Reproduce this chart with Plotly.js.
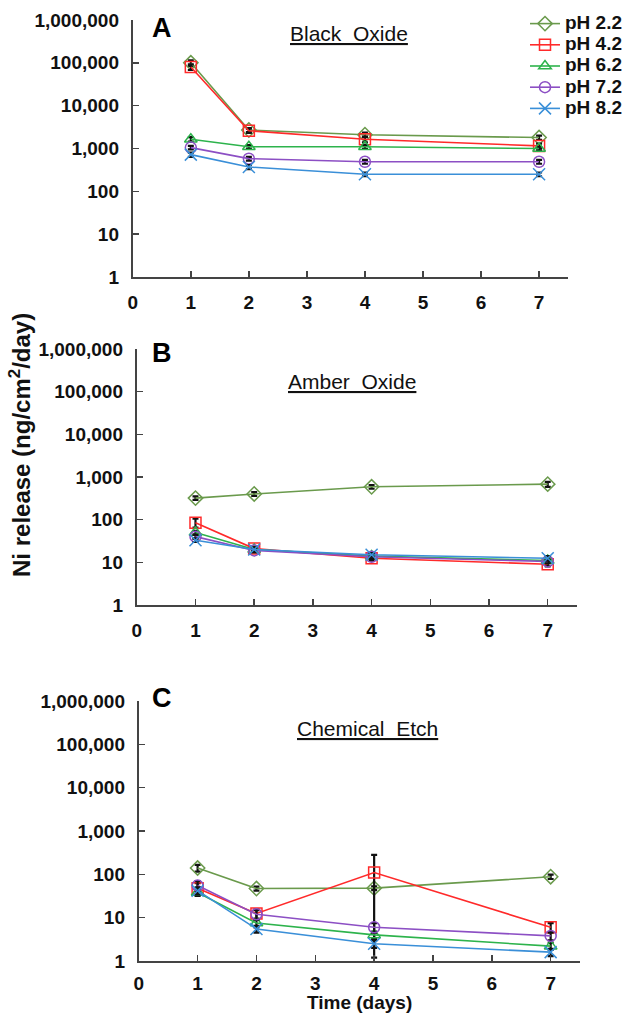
<!DOCTYPE html>
<html>
<head>
<meta charset="utf-8">
<script src="https://cdn.plot.ly/plotly-3.0.1.min.js"></script>
<style>html,body{margin:0;padding:0;background:#fff;}#chart{width:628px;height:1015px;}</style>
</head>
<body>
<div id="chart"></div>
<script>
// ---- data ----
const days = [1, 2, 4, 7];
const seriesNames = ['pH 2.2', 'pH 4.2', 'pH 6.2', 'pH 7.2', 'pH 8.2'];
const panelTitles = ['Black Oxide', 'Amber Oxide', 'Chemical Etch'];
const panelLetters = ['A', 'B', 'C'];
const yTickVals = [1, 10, 100, 1000, 10000, 100000, 1000000];
const yTickText = ['1', '10', '100', '1,000', '10,000', '100,000', '1,000,000'];

// Black Oxide (A)
const blackOxide_pH22 = [100000, 2700, 2100, 1800];
const blackOxide_pH42 = [80000, 2600, 1650, 1150];
const blackOxide_pH62 = [1650, 1100, 1100, 1000];
const blackOxide_pH72 = [1050, 580, 490, 490];
const blackOxide_pH82 = [720, 370, 250, 250];
const blackOxideErr = [
  [15000, 300, 250, 200],
  [12000, 300, 250, 150],
  [200, 100, 120, 100],
  [100, 60, 50, 50],
  [80, 40, 25, 25]
];

// Amber Oxide (B)
const amberOxide_pH22 = [320, 400, 590, 680];
const amberOxide_pH42 = [85, 21, 12.5, 9];
const amberOxide_pH62 = [50, 20, 14, 11];
const amberOxide_pH72 = [40, 19, 13.5, 10.5];
const amberOxide_pH82 = [33, 20, 15, 12.5];
const amberOxideErr = [
  [30, 40, 60, 90],
  [20, 2, 1.5, 1],
  [5, 2, 1.5, 1],
  [4, 2, 1.5, 1],
  [3, 2, 1.5, 1.5]
];

// Chemical Etch (C)
const chemEtch_pH22 = [140, 47, 48, 88];
const chemEtch_pH42 = [48, 12.5, 110, 6];
const chemEtch_pH62 = [38, 7.5, 4, 2.2];
const chemEtch_pH72 = [55, 12, 6, 3.8];
const chemEtch_pH82 = [42, 5.5, 2.5, 1.6];
const chemEtchErrPlus = [
  [25, 5, 5, 10],
  [15, 3, 170, 1.5],
  [6, 1.5, 0.8, 0.4],
  [15, 3, 1.5, 0.8],
  [8, 1, 0.5, 0.3]
];
const chemEtchErrMinus = [
  [25, 5, 5, 10],
  [15, 3, 108.8, 1.5],
  [6, 1.5, 0.8, 0.4],
  [15, 3, 1.5, 0.8],
  [8, 1, 0.5, 0.3]
];

// ---- styles ----
const colors = ['#6a9a4c', '#ff2a2a', '#2db34c', '#8c4fc4', '#3a8fd8'];
const symbols = ['diamond-open', 'square-open', 'triangle-up-open', 'circle-open', 'x-thin-open'];
const FONT = 'Liberation Sans, Arial, sans-serif';

const panels = [
  {vals: [blackOxide_pH22, blackOxide_pH42, blackOxide_pH62, blackOxide_pH72, blackOxide_pH82], ep: blackOxideErr, em: blackOxideErr, xa: 'x', ya: 'y'},
  {vals: [amberOxide_pH22, amberOxide_pH42, amberOxide_pH62, amberOxide_pH72, amberOxide_pH82], ep: amberOxideErr, em: amberOxideErr, xa: 'x2', ya: 'y2'},
  {vals: [chemEtch_pH22, chemEtch_pH42, chemEtch_pH62, chemEtch_pH72, chemEtch_pH82], ep: chemEtchErrPlus, em: chemEtchErrMinus, xa: 'x3', ya: 'y3'}
];

const traces = [];
panels.forEach((p, pi) => {
  seriesNames.forEach((name, si) => {
    traces.push({
      type: 'scatter', mode: 'lines+markers',
      x: days, y: p.vals[si],
      xaxis: p.xa, yaxis: p.ya,
      name: '<span style="font-size:19px">' + name + '</span>',
      legendgroup: name,
      showlegend: pi === 0,
      line: {color: colors[si], width: 1.6},
      marker: {symbol: symbols[si], size: si === 4 ? 12 : 11, color: colors[si], line: {color: colors[si], width: 1.5}},
      error_y: {type: 'data', symmetric: false, array: p.ep[si], arrayminus: p.em[si], color: '#111', thickness: 2.2, width: 3}
    });
  });
});

const domainsX = [[133/628, 569/628], [137/628, 578/628], [139/628, 581/628]];
const domainsY = [[(1015-277)/1015, (1015-20)/1015], [(1015-605)/1015, (1015-349)/1015], [(1015-961)/1015, (1015-701)/1015]];

function xAxis(i) {
  return {
    domain: domainsX[i], anchor: i === 0 ? 'y' : 'y' + (i + 1),
    range: [0, 7.5], tick0: 0, dtick: 1, showgrid: false, zeroline: false,
    showline: true, linecolor: '#444', linewidth: 2,
    ticks: 'inside', ticklen: 6, tickwidth: 1.5, tickcolor: '#444',
    tickfont: {family: FONT, size: 19, color: '#111', weight: 'bold'},
    ticklabelstandoff: i === 2 ? 4 : 7
  };
}
function yAxis(i) {
  return {
    domain: domainsY[i], anchor: i === 0 ? 'x' : 'x' + (i + 1),
    type: 'log', range: [0, 6], tickvals: yTickVals, ticktext: yTickText,
    showgrid: false, zeroline: false,
    showline: true, linecolor: '#444', linewidth: 2,
    ticks: 'inside', ticklen: 6, tickwidth: 1.5, tickcolor: '#444',
    tickfont: {family: FONT, size: 19, color: '#111', weight: 'bold'},
    ticklabelstandoff: 8
  };
}

const annotations = [];
const letterPos = [[162, 28], [162, 353], [162, 698]];
const titlePos = [[350, 33], [353, 381], [368, 728]];
for (let i = 0; i < 3; i++) {
  annotations.push({xref: 'paper', yref: 'paper', x: letterPos[i][0]/628, y: 1 - letterPos[i][1]/1015,
    xanchor: 'center', yanchor: 'middle', showarrow: false, text: '<b>' + panelLetters[i] + '</b>',
    font: {family: FONT, size: 27, color: '#000'}});
  annotations.push({xref: 'paper', yref: 'paper', x: titlePos[i][0]/628, y: 1 - titlePos[i][1]/1015,
    xanchor: 'center', yanchor: 'middle', showarrow: false, text: '<u>' + panelTitles[i].replace(' ', '\u00a0 ') + '</u>',
    font: {family: FONT, size: 21, color: '#111'}});
}
annotations.push({xref: 'paper', yref: 'paper', x: 20/628, y: 1 - 445/1015, xanchor: 'center', yanchor: 'middle',
  showarrow: false, textangle: -90, text: '<b>Ni release (ng/cm<sup>2</sup>/day)</b>',
  font: {family: FONT, size: 24, color: '#111'}});
annotations.push({xref: 'paper', yref: 'paper', x: 360/628, y: 1 - 1002/1015, xanchor: 'center', yanchor: 'middle',
  showarrow: false, text: '<b>Time (days)</b>', font: {family: FONT, size: 19, color: '#111'}});

const layout = {
  width: 628, height: 1015,
  margin: {l: 0, r: 0, t: 0, b: 0},
  paper_bgcolor: '#fff', plot_bgcolor: '#fff',
  font: {family: FONT, color: '#111'},
  showlegend: true,
  legend: {x: 526/628, y: 1 - 8/1015, xanchor: 'left', yanchor: 'top', bgcolor: 'rgba(0,0,0,0)',
    font: {family: FONT, size: 14, color: '#111', weight: 'bold'}, itemwidth: 30, tracegroupgap: 0},
  xaxis: xAxis(0), yaxis: yAxis(0),
  xaxis2: xAxis(1), yaxis2: yAxis(1),
  xaxis3: xAxis(2), yaxis3: yAxis(2),
  annotations: annotations
};

Plotly.newPlot('chart', traces, layout, {displayModeBar: false, staticPlot: true});
</script>
</body>
</html>
